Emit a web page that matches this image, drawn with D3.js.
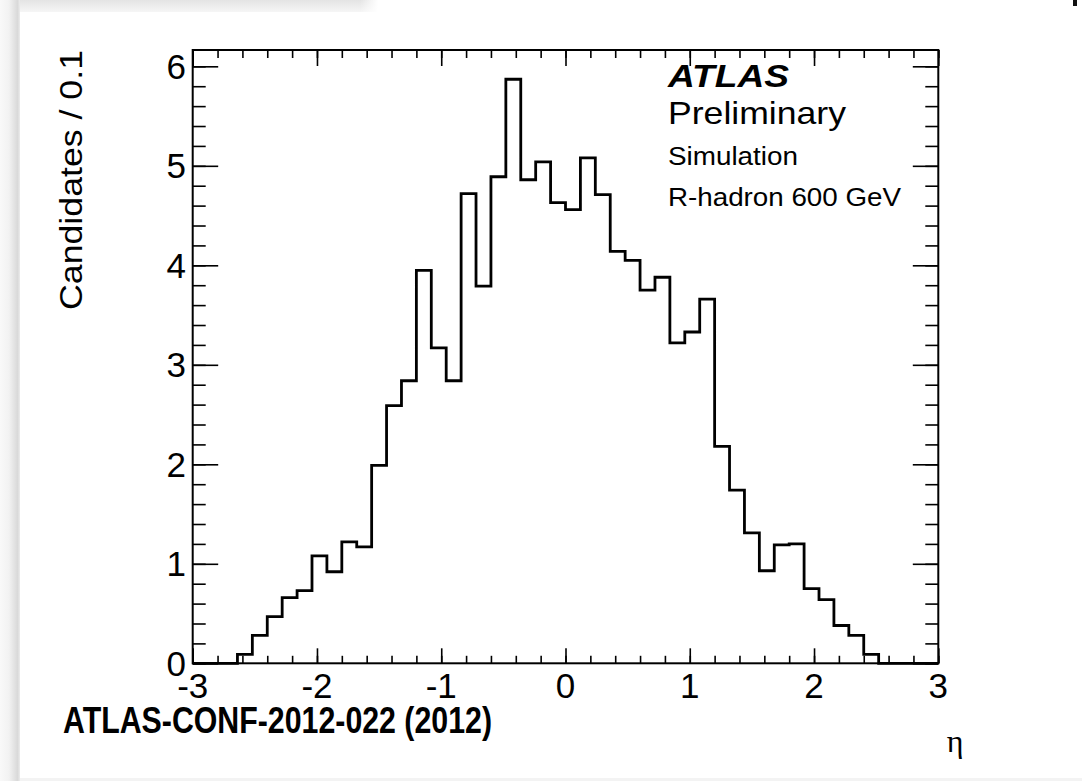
<!DOCTYPE html>
<html>
<head>
<meta charset="utf-8">
<script src="https://cdn.jsdelivr.net/npm/d3@7"></script>
<style>
  html, body { margin: 0; padding: 0; background: #ffffff; }
  svg { display: block; }
</style>
</head>
<body>
<svg id="chart" width="1082" height="781"></svg>
<script>
// ---------------- DATA ----------------
const xMin = -3, xMax = 3, binWidth = 0.12;
const values = [
  0, 0, 0, 0.09, 0.28, 0.47, 0.66, 0.73, 1.08, 0.92,
  1.22, 1.17, 1.99, 2.59, 2.84, 3.95, 3.17, 2.84, 4.72, 3.79,
  4.89, 5.87, 4.86, 5.04, 4.63, 4.56, 5.08, 4.71, 4.14, 4.05,
  3.75, 3.88, 3.22, 3.33, 3.66, 2.18, 1.74, 1.31, 0.93, 1.19,
  1.20, 0.75, 0.64, 0.38, 0.28, 0.09, 0, 0, 0, 0
];
const xTickValues = [-3, -2, -1, 0, 1, 2, 3];
const xTickLabels = ["-3", "-2", "-1", "0", "1", "2", "3"];
const yTickValues = [0, 1, 2, 3, 4, 5, 6];
const yTickLabels = ["0", "1", "2", "3", "4", "5", "6"];
const yTop = 6.164;
const yLabel = "Candidates / 0.1";
const xLabel = "η";
const infoLines = ["ATLAS", "Preliminary", "Simulation", "R-hadron 600 GeV"];
const footer = "ATLAS-CONF-2012-022 (2012)";

// ---------------- LAYOUT ----------------
const frame = { left: 192.7, right: 938.3, top: 50, bottom: 663.3 };
const sans = "'Liberation Sans', Arial, Helvetica, sans-serif";

const svg = d3.select("#chart");

// page background / shadows (screenshot card look)
const defs = svg.append("defs");
const gTop = defs.append("linearGradient").attr("id", "gTop")
  .attr("x1", 0).attr("y1", 0).attr("x2", 0).attr("y2", 1);
gTop.append("stop").attr("offset", "0%").attr("stop-color", "#e4e4e4");
gTop.append("stop").attr("offset", "100%").attr("stop-color", "#f6f6f6");
const gTopH = defs.append("linearGradient").attr("id", "gTopH")
  .attr("x1", 0).attr("y1", 0).attr("x2", 1).attr("y2", 0);
gTopH.append("stop").attr("offset", "0%").attr("stop-color", "#ffffff").attr("stop-opacity", 0);
gTopH.append("stop").attr("offset", "100%").attr("stop-color", "#ffffff").attr("stop-opacity", 1);
const gLeft = defs.append("linearGradient").attr("id", "gLeft")
  .attr("x1", 0).attr("y1", 0).attr("x2", 1).attr("y2", 0);
gLeft.append("stop").attr("offset", "0%").attr("stop-color", "#f9f9f9");
gLeft.append("stop").attr("offset", "45%").attr("stop-color", "#f2f2f2");
gLeft.append("stop").attr("offset", "88%").attr("stop-color", "#d9d9d9");
gLeft.append("stop").attr("offset", "100%").attr("stop-color", "#ececec");

svg.append("rect").attr("x", 0).attr("y", 0).attr("width", 1082).attr("height", 781).attr("fill", "#ffffff");
svg.append("rect").attr("x", 0).attr("y", 0).attr("width", 378).attr("height", 12).attr("fill", "url(#gTop)");
svg.append("rect").attr("x", 360).attr("y", 0).attr("width", 18).attr("height", 12).attr("fill", "url(#gTopH)");
svg.append("rect").attr("x", 0).attr("y", 0).attr("width", 20).attr("height", 781).attr("fill", "url(#gLeft)");
svg.append("rect").attr("x", 20).attr("y", 778).attr("width", 1062).attr("height", 3).attr("fill", "#f3f3f3");
svg.append("rect").attr("x", 1073).attr("y", 0).attr("width", 4).attr("height", 6).attr("fill", "#111111");

// ---------------- SCALES ----------------
const x = d3.scaleLinear().domain([xMin, xMax]).range([frame.left, frame.right]);
const y = d3.scaleLinear().domain([0, yTop]).range([frame.bottom, frame.top]);

const edges = d3.range(values.length + 1).map(i => +(xMin + i * binWidth).toFixed(4));
const pts = values.map((v, i) => [edges[i], v]);
pts.push([edges[values.length], values[values.length - 1]]);

// ---------------- AXES (ROOT style, ticks inside) ----------------
const xMinor = d3.range(0, 31).map(i => +(xMin + i * 0.2).toFixed(4));
const yMinor = d3.range(0, 31).map(i => +(i * 0.2).toFixed(4)).filter(v => v <= yTop);

const bottomAxis = d3.axisBottom(x).tickValues(xTickValues).tickSize(-15).tickFormat("");
const bottomMinor = d3.axisBottom(x).tickValues(xMinor).tickSize(-7.5).tickFormat("");
const topAxis = d3.axisTop(x).tickValues(xTickValues).tickSize(-16).tickFormat("");
const topMinor = d3.axisTop(x).tickValues(xMinor).tickSize(-8).tickFormat("");
const leftAxis = d3.axisLeft(y).tickValues(yTickValues).tickSize(-25.5).tickFormat("");
const leftMinor = d3.axisLeft(y).tickValues(yMinor).tickSize(-13).tickFormat("");
const rightAxis = d3.axisRight(y).tickValues(yTickValues).tickSize(-25.5).tickFormat("");
const rightMinor = d3.axisRight(y).tickValues(yMinor).tickSize(-13).tickFormat("");

function drawAxis(ax, tx, ty) {
  const g = svg.append("g").attr("transform", `translate(${tx},${ty})`).call(ax);
  g.select(".domain").remove();
  g.selectAll("line").attr("stroke", "#000").attr("stroke-width", 1.6);
  return g;
}
drawAxis(bottomAxis, 0, frame.bottom);
drawAxis(bottomMinor, 0, frame.bottom);
drawAxis(topAxis, 0, frame.top);
drawAxis(topMinor, 0, frame.top);
drawAxis(leftAxis, frame.left, 0);
drawAxis(leftMinor, frame.left, 0);
drawAxis(rightAxis, frame.right, 0);
drawAxis(rightMinor, frame.right, 0);

// ---------------- HISTOGRAM ----------------
const line = d3.line().x(d => x(d[0])).y(d => y(d[1])).curve(d3.curveStepAfter);
svg.append("path")
  .attr("d", line(pts))
  .attr("fill", "none")
  .attr("stroke", "#000")
  .attr("stroke-width", 2.8)
  .attr("stroke-linejoin", "miter");

// frame
svg.append("rect")
  .attr("x", frame.left).attr("y", frame.top)
  .attr("width", frame.right - frame.left).attr("height", frame.bottom - frame.top)
  .attr("fill", "none").attr("stroke", "#000").attr("stroke-width", 2);

// ---------------- TICK LABELS ----------------
svg.append("g").selectAll("text").data(xTickValues).join("text")
  .attr("x", d => x(d)).attr("y", 698)
  .attr("text-anchor", "middle")
  .attr("font-family", sans).attr("font-size", 35)
  .text((d, i) => xTickLabels[i]);

svg.append("g").selectAll("text").data(yTickValues).join("text")
  .attr("x", 186).attr("y", d => y(d) + 12.5)
  .attr("text-anchor", "end")
  .attr("font-family", sans).attr("font-size", 35)
  .text((d, i) => yTickLabels[i]);

// ---------------- TITLES ----------------
svg.append("text")
  .attr("transform", "translate(82,50) rotate(-90)")
  .attr("text-anchor", "end")
  .attr("font-family", sans).attr("font-size", 32)
  .attr("textLength", 260).attr("lengthAdjust", "spacingAndGlyphs")
  .text(yLabel);

svg.append("text")
  .attr("x", 955).attr("y", 752)
  .attr("text-anchor", "middle")
  .attr("font-family", "'Liberation Serif', 'Times New Roman', serif").attr("font-size", 32)
  .text(xLabel);

svg.append("text")
  .attr("x", 63).attr("y", 733)
  .attr("font-family", sans).attr("font-size", 37).attr("font-weight", "bold")
  .attr("textLength", 429).attr("lengthAdjust", "spacingAndGlyphs")
  .text(footer);

// info block
const info = [
  { t: infoLines[0], y: 87, size: 31, w: 121, bold: true, italic: true },
  { t: infoLines[1], y: 123.5, size: 30.5, w: 178 },
  { t: infoLines[2], y: 164.5, size: 25.5, w: 130 },
  { t: infoLines[3], y: 206, size: 25.5, w: 233 }
];
svg.append("g").selectAll("text").data(info).join("text")
  .attr("x", 668).attr("y", d => d.y)
  .attr("font-family", sans)
  .attr("font-size", d => d.size)
  .attr("font-weight", d => d.bold ? "bold" : "normal")
  .attr("font-style", d => d.italic ? "italic" : "normal")
  .attr("textLength", d => d.w).attr("lengthAdjust", "spacingAndGlyphs")
  .text(d => d.t);
</script>
</body>
</html>
